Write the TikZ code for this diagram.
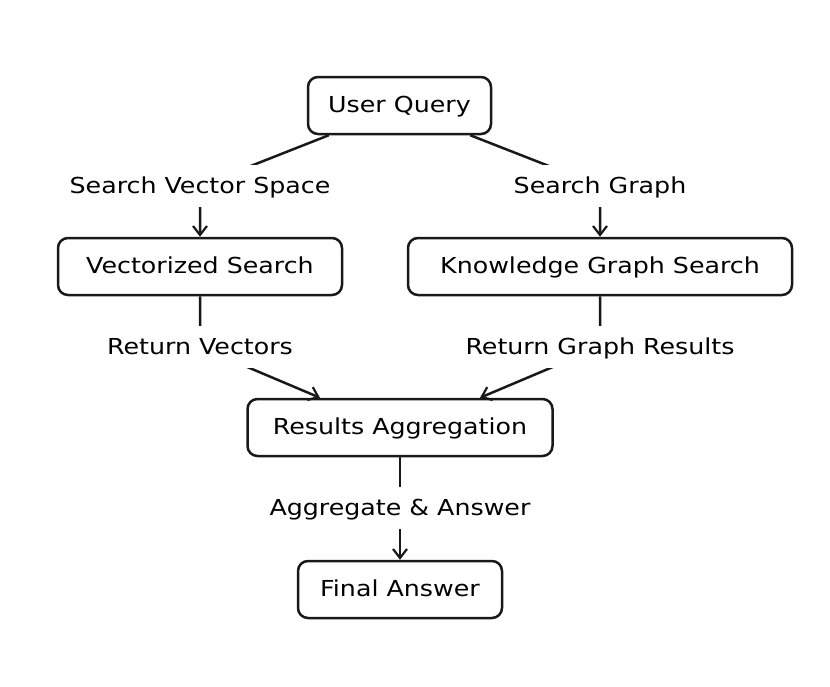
\documentclass[tikz,border=0pt]{standalone}
\usepackage{fontspec}
\setmainfont{DejaVu Sans}[FakeStretch=1.15]
\usetikzlibrary{arrows.meta}
\begin{document}
\begin{tikzpicture}[x=1pt,y=-1pt,
  box/.style={draw=black!90, line width=2.5pt, rounded corners=10pt, minimum height=57pt, inner sep=0pt, text height=16pt, text depth=2pt, font=\fontsize{22}{26}\selectfont},
  lbl/.style={fill=white, inner xsep=2pt, inner ysep=12pt, text height=16pt, text depth=2pt, font=\fontsize{22}{26}\selectfont},
  conn/.style={line width=2.5pt, draw=black!90},
  tip/.style={-{Straight Barb[length=9pt,width=14pt,line width=2.2pt]}}
]
\useasboundingbox (0,0) rectangle (830,686);
% nodes
\node[box, minimum width=183pt] (uq) at (399.5,105.5) {User Query};
\node[box, minimum width=284pt] (vs) at (200,266.5) {Vectorized Search};
\node[box, minimum width=384pt] (kg) at (600,266.5) {Knowledge Graph Search};
\node[box, minimum width=305pt] (ra) at (400,427.5) {Results Aggregation};
\node[box, minimum width=204pt] (fa) at (400,589.5) {Final Answer};
% label anchors
\coordinate (c1) at (200,186);
\coordinate (c2) at (600,186);
\coordinate (c3) at (200,347);
\coordinate (c4) at (600,347);
\coordinate (c5) at (400,508);
% connectors
\draw[conn,tip] ([xshift=22pt]uq.south west) -- (c1) -- (vs.north);
\draw[conn,tip] ([xshift=-22pt]uq.south east) -- (c2) -- (kg.north);
\draw[conn,tip] (vs.south) -- (c3) -- ([xshift=-80pt]ra.north);
\draw[conn,tip] (kg.south) -- (c4) -- ([xshift=80pt]ra.north);
\draw[conn,tip] (ra.south) -- (c5) -- (fa.north);
% labels
\node[lbl] (l1) at (c1) {Search Vector Space};
\node[lbl] (l2) at (c2) {Search Graph};
\node[lbl] (l3) at (c3) {Return Vectors};
\node[lbl] (l4) at (c4) {Return Graph Results};
\node[lbl] (l5) at (c5) {Aggregate \& Answer};
\end{tikzpicture}
\end{document}
